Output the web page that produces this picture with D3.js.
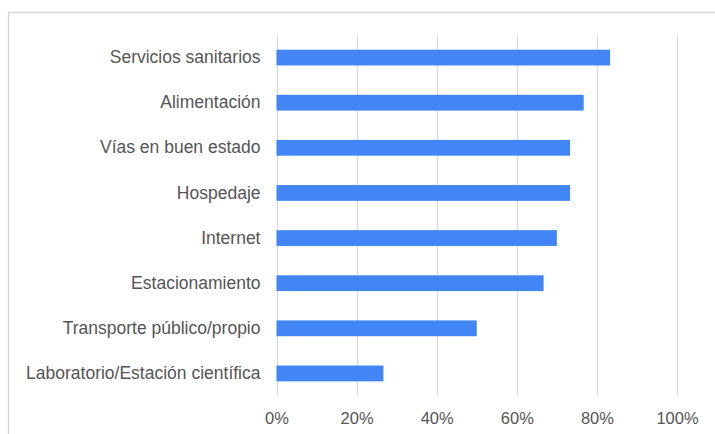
<!DOCTYPE html>
<html>
<head>
<meta charset="utf-8">
<script src="https://cdn.jsdelivr.net/npm/d3@7"></script>
<style>
  body { margin: 0; background: #fff; }
  svg { display: block; font-family: "Liberation Sans", Arial, sans-serif; }
</style>
</head>
<body>
<div id="svgid"></div>
<script>
var categories = ["Servicios sanitarios", "Alimentación", "Vías en buen estado", "Hospedaje",
  "Internet", "Estacionamiento", "Transporte público/propio", "Laboratorio/Estación científica"]
var values = [83.3, 76.7, 73.3, 73.3, 70, 66.7, 50, 26.7]
var ticks = [0, 20, 40, 60, 80, 100]

var width = 715, height = 434

var x = d3.scaleLinear()
  .domain([0, 100])
  .range([276.5, 677])

var y = d3.scaleBand()
  .domain(categories)
  .range([35, 396])
  .paddingInner(0.65)
  .paddingOuter(0.325)

var svg = d3.select("#svgid").append("svg")
  .attr("width", width)
  .attr("height", height)

// chart frame, cut off at right and bottom
svg.append("rect")
  .attr("x", 8.5)
  .attr("y", 12.5)
  .attr("width", 720)
  .attr("height", 440)
  .attr("fill", "none")
  .attr("stroke", "#d6d6d6")
  .attr("stroke-width", 1.5)

//GRID
svg.selectAll("line.grid")
  .data(ticks)
  .enter()
  .append("line")
    .attr("class", "grid")
    .attr("x1", function(d) { return Math.round(x(d)) + 0.5 })
    .attr("x2", function(d) { return Math.round(x(d)) + 0.5 })
    .attr("y1", 35)
    .attr("y2", 396)
    .attr("stroke", "#dadada")
    .attr("stroke-width", 1.2)

//BARS
svg.selectAll("rect.bar")
  .data(values)
  .enter()
  .append("rect")
    .attr("class", "bar")
    .attr("x", x(0))
    .attr("y", function(d, i) { return y(categories[i]) })
    .attr("width", function(d) { return x(d) - x(0) })
    .attr("height", y.bandwidth())
    .attr("fill", "#4285f4")

//AXES
var yAxis = svg.append("g")
  .attr("transform", "translate(" + x(0) + ",0)")
  .call(d3.axisLeft(y).tickSize(0).tickPadding(16))
yAxis.select(".domain").remove()
yAxis.selectAll("text")
  .attr("fill", "#555")
  .style("font-size", "17.5px")

var xAxis = svg.append("g")
  .attr("transform", "translate(0,396)")
  .call(d3.axisBottom(x).tickValues(ticks).tickSize(0).tickPadding(16)
    .tickFormat(function(d) { return d + "%" }))
xAxis.select(".domain").remove()
xAxis.selectAll("text")
  .attr("fill", "#555")
  .style("font-size", "16.5px")
</script>
</body>
</html>
